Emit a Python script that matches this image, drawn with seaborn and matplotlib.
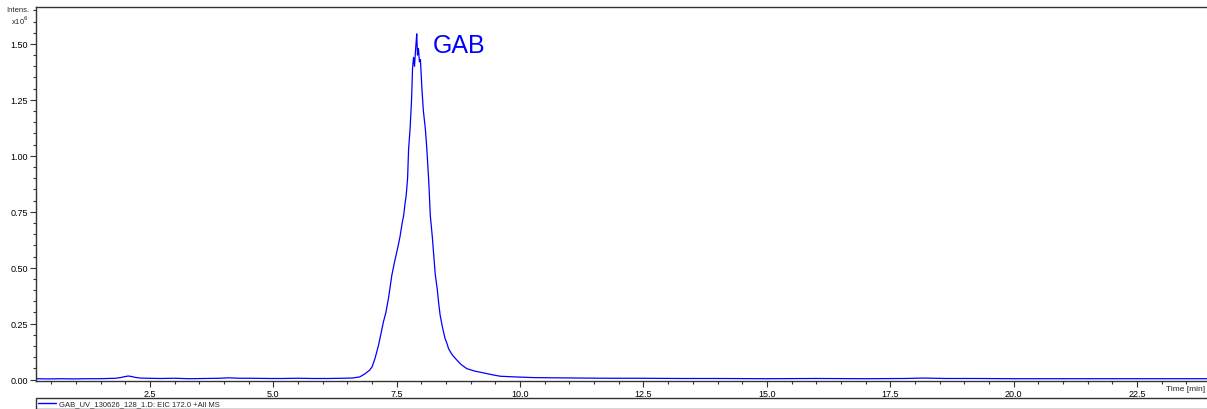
import matplotlib
matplotlib.use("Agg")
import matplotlib.pyplot as plt
from matplotlib.ticker import MultipleLocator, FormatStrFormatter
from matplotlib.lines import Line2D
import seaborn as sns
import pandas as pd

# ---- data (time in min, intensity in 1e6 counts) ----
time_min = [0.20, 0.45, 0.70, 0.95, 1.20, 1.45, 1.65, 1.80, 1.90, 1.98, 2.06, 2.12,
            2.20, 2.30, 2.45, 2.70, 3.00, 3.30, 3.60, 3.90, 4.10, 4.30, 4.60, 4.90,
            5.20, 5.50, 5.80, 6.10, 6.40, 6.60, 6.75, 6.85, 6.95, 7.00, 7.06, 7.13,
            7.18, 7.23, 7.28, 7.33, 7.37, 7.40, 7.45, 7.50, 7.54, 7.57, 7.61, 7.64,
            7.67, 7.69, 7.72, 7.74, 7.77, 7.80, 7.82, 7.84, 7.86, 7.88, 7.89, 7.905,
            7.92, 7.94, 7.96, 7.98, 8.01, 8.04, 8.08, 8.11, 8.15, 8.18, 8.22, 8.25,
            8.28, 8.32, 8.35, 8.38, 8.43, 8.48, 8.52, 8.55, 8.62, 8.69, 8.80, 8.92,
            9.08, 9.26, 9.45, 9.60, 9.90, 10.27, 10.70, 11.20, 11.80, 12.50, 13.20,
            14.00, 15.00, 16.00, 17.00, 17.80, 18.20, 18.60, 19.20, 20.00, 21.00,
            22.00, 23.00, 24.02]
intensity = [0.004, 0.003, 0.004, 0.003, 0.004, 0.004, 0.005, 0.006, 0.009, 0.013, 0.016, 0.014,
             0.010, 0.007, 0.006, 0.005, 0.006, 0.004, 0.005, 0.006, 0.008, 0.006, 0.006, 0.005,
             0.005, 0.006, 0.005, 0.005, 0.006, 0.007, 0.012, 0.025, 0.042, 0.057, 0.095, 0.153,
             0.205, 0.258, 0.300, 0.360, 0.420, 0.466, 0.520, 0.570, 0.610, 0.644, 0.700, 0.733,
             0.790, 0.820, 0.900, 1.030, 1.120, 1.250, 1.390, 1.440, 1.400, 1.470, 1.500, 1.545,
             1.450, 1.480, 1.420, 1.430, 1.300, 1.200, 1.120, 1.030, 0.880, 0.733, 0.640, 0.555,
             0.470, 0.406, 0.340, 0.287, 0.230, 0.183, 0.160, 0.138, 0.112, 0.094, 0.068, 0.049,
             0.038, 0.030, 0.021, 0.015, 0.012, 0.009, 0.008, 0.007, 0.006, 0.006, 0.005,
             0.005, 0.004, 0.005, 0.004, 0.005, 0.007, 0.005, 0.005, 0.004, 0.004,
             0.004, 0.004, 0.004]
peak_label = "GAB"
legend_label = "GAB_UV_130626_128_1.D: EIC 172.0 +All MS"

df = pd.DataFrame({"t": time_min, "I": intensity})

sns.set_style("ticks")
plt.rcParams["font.family"] = ["Liberation Sans", "DejaVu Sans"]

W, H = 1207, 410
fig = plt.figure(figsize=(W / 100, H / 100), dpi=100)
ax = fig.add_axes([36 / W, 1 - 381.5 / H, (1212 - 36) / W, (381.5 - 8) / H])

sns.lineplot(data=df, x="t", y="I", ax=ax, color="#0000ff", linewidth=0.9, legend=False)

ax.set_xlim(0.19, 24.02)
ax.set_ylim(-0.004, 1.665)
ax.xaxis.set_major_locator(MultipleLocator(2.5))
ax.xaxis.set_minor_locator(MultipleLocator(0.5))
ax.yaxis.set_major_locator(MultipleLocator(0.25))
ax.yaxis.set_minor_locator(MultipleLocator(0.05))
ax.xaxis.set_major_formatter(FormatStrFormatter("%.1f"))
ax.yaxis.set_major_formatter(FormatStrFormatter("%.2f"))
ax.tick_params(axis="both", which="major", length=4, width=0.8, labelsize=6.5, pad=2,
               color="#333333", labelcolor="black")
ax.tick_params(axis="both", which="minor", length=2.5, width=0.8, color="#333333")
ax.set_xlabel("")
ax.set_ylabel("")
for s in ax.spines.values():
    s.set_visible(True)
    s.set_color("#333333")
    s.set_linewidth(1.0)

ax.text(-0.006, 1.652, "Intens.", transform=ax.get_yaxis_transform(), ha="right", va="center", fontsize=5.5)
ax.text(-0.006, 1.607, "x10$^6$", transform=ax.get_yaxis_transform(), ha="right", va="center", fontsize=5.5)
fig.text(1205 / W, 1 - 390 / H, "Time [min]", ha="right", va="center", fontsize=6)

ax.text(8.235, 1.463, peak_label, color="#0000ff", fontsize=18, ha="left", va="baseline")

handle = Line2D([], [], color="#0000ff", linewidth=1.0)
leg = fig.legend([handle], [legend_label], loc="center left",
                 bbox_to_anchor=(36 / W, 0.5 / H, (1215 - 36) / W, 10 / H),
                 mode="expand", fontsize=5.5, frameon=True, fancybox=False, framealpha=1,
                 borderpad=0.2, handlelength=2.4, handletextpad=0.4, borderaxespad=0)
leg.get_frame().set_edgecolor("#333333")
leg.get_frame().set_linewidth(1.0)

fig.savefig("out.png", dpi=100)
